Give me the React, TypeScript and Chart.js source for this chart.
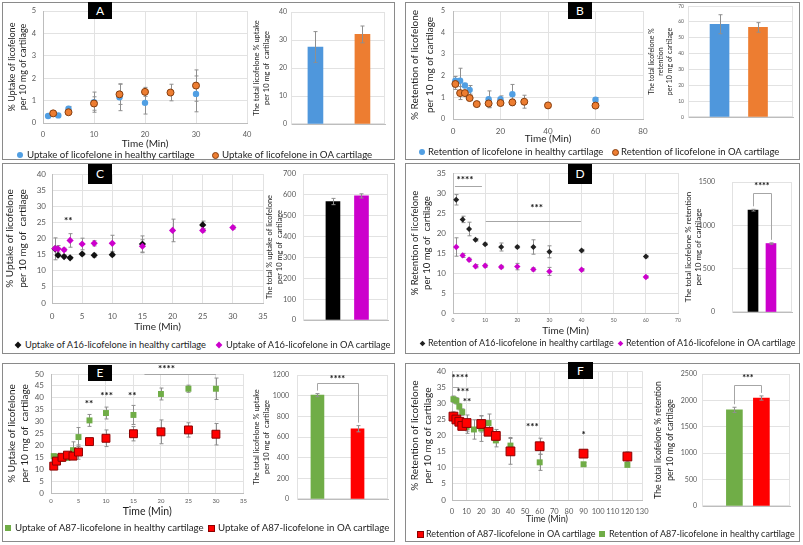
import React, { useEffect, useRef } from 'react';
import { Chart, registerables } from 'chart.js';

Chart.register(...registerables);

const FONT = 'Lato, "Open Sans", "DejaVu Sans", sans-serif';
Chart.defaults.font.family = FONT;

const TICK_COLOR = '#595959';
const TITLE_COLOR = '#1e1e1e';
const GRID_COLOR = '#e2e2e2';
const AXIS_COLOR = '#bdbdbd';
const ERR_COLOR = '#8f8f8f';
const MARK_LINE = '#a6a6a6';

// ---------------- Panel A ----------------
const timeA_healthy = [1, 3, 5, 10, 15, 20, 30];
const uptakeA_healthy = [0.31, 0.34, 0.64, 0.93, 1.15, 0.9, 1.3];
const errA_healthy = [0, 0, 0.1, 0.45, 0.6, 0.5, 0.8];
const timeA_oa = [2, 5, 10, 15, 20, 25, 30];
const uptakeA_oa = [0.43, 0.48, 0.87, 1.28, 1.39, 1.36, 1.67];
const errA_oa = [0, 0.05, 0.3, 0.45, 0.2, 0.37, 0.7];
const totalA_labels = ['Healthy', 'OA'];
const totalA_values = [27.5, 32];
const totalA_err = [5.5, 3];

// ---------------- Panel B ----------------
const timeB_healthy = [1, 3, 5, 7, 15, 20, 25, 60];
const retB_healthy = [1.77, 1.77, 1.55, 1.35, 0.92, 0.92, 1.15, 0.89];
const errB_healthy = [0.2, 0.58, 0.1, 0.2, 0.38, 0.15, 0.45, 0.1];
const timeB_oa = [1, 3, 5, 7, 10, 15, 20, 25, 30, 40, 60];
const retB_oa = [1.62, 1.2, 1.2, 0.97, 0.69, 0.72, 0.74, 0.77, 0.8, 0.63, 0.62];
const errB_oa = [0.25, 0.3, 0.1, 0.1, 0.08, 0.2, 0.1, 0.15, 0.3, 0.05, 0.05];
const totalB_labels = ['Healthy', 'OA'];
const totalB_values = [58.5, 56.5];
const totalB_err = [6, 3];

// ---------------- Panel C ----------------
const timeC_healthy = [0.5, 1, 2, 3, 5, 7, 10, 15, 25];
const uptakeC_healthy = [16.8, 14.8, 14.4, 14.0, 15.2, 14.8, 15.0, 18.3, 24.2];
const errC_healthy = [3.4, 0.5, 0.5, 0.4, 0.5, 0.6, 0.5, 2.5, 1.2];
const timeC_oa = [0.5, 1, 2, 3, 5, 7, 10, 15, 20, 25, 30];
const uptakeC_oa = [16.9, 16.8, 16.5, 19.4, 18.3, 18.5, 18.5, 17.6, 22.5, 22.5, 23.4];
const errC_oa = [0.5, 1, 0.5, 2.1, 1.8, 0.8, 2.5, 2, 3.5, 0.5, 0.5];
const totalC_labels = ['Healthy', 'OA'];
const totalC_values = [568, 595];
const totalC_err = [15, 10];

// ---------------- Panel D ----------------
const timeD = [1, 3, 5, 7, 10, 15, 20, 25, 30, 40, 60];
const retD_healthy = [28.3, 23.4, 21.0, 18.3, 17.2, 16.5, 16.5, 16.5, 15.3, 15.6, 14.1];
const errD_healthy = [1.3, 0.8, 1.7, 0.3, 0.3, 1, 0.3, 1.8, 1.5, 0.3, 0.3];
const retD_oa = [16.5, 14.4, 13.3, 11.7, 11.8, 11.5, 11.6, 10.9, 10.4, 10.8, 9.0];
const errD_oa = [2.3, 0.5, 0.4, 0.4, 0.4, 0.4, 0.8, 0.4, 1.0, 0.3, 0.3];
const totalD_labels = ['Healthy', 'OA'];
const totalD_values = [1175, 790];
const totalD_err = [10, 8];

// ---------------- Panel E ----------------
const timeE = [0.5, 1, 2, 3, 4, 5, 7, 10, 15, 20, 25, 30];
const uptakeE_healthy = [15.5, 15.2, 14.4, 14.8, 18.0, 23.5, 30.5, 33.6, 32.8, 41.6, 43.8, 43.8];
const errE_healthy = [0.8, 0.8, 1, 1, 3.5, 4, 2.5, 2.5, 4, 2.5, 1.5, 4.5];
const uptakeE_oa = [11.3, 13.4, 15.0, 15.9, 15.5, 17.2, 21.6, 23.0, 24.9, 25.7, 26.5, 24.7];
const errE_oa = [1, 1, 1, 1, 1, 3, 1, 3.5, 3, 5, 3, 4.5];
const totalE_labels = ['Healthy', 'OA'];
const totalE_values = [1005, 680];
const totalE_err = [15, 30];

// ---------------- Panel F ----------------
const timeF_oa = [1, 3, 5, 7, 10, 20, 25, 30, 40, 60, 90, 120];
const retF_oa = [25.9, 25.0, 24.3, 23.0, 23.9, 23.6, 21.2, 19.9, 15.1, 16.7, 14.4, 13.5];
const errF_oa = [1.5, 1, 1, 1, 2.5, 2.5, 1, 2, 4, 2.5, 1, 1.5];
const timeF_healthy = [1, 3, 5, 7, 10, 15, 20, 25, 30, 40, 60, 90, 120];
const retF_healthy = [31.3, 30.8, 29.0, 27.3, 22.7, 21.9, 22.2, 23.9, 18.5, 16.9, 11.7, 11.1, 10.9];
const errF_healthy = [1, 1, 1, 1, 2, 3, 4, 2.8, 2, 2.5, 2.5, 0.5, 0.5];
const totalF_labels = ['Healthy', 'OA'];
const totalF_values = [1820, 2045];
const totalF_err = [50, 40];

// ---------------- helpers ----------------
type Rect = [number, number, number, number];
type Shape = 'circle' | 'rect' | 'rectRot';
interface Style { bg: string; border: string; bw: number; shape: Shape; r: number }

const BLUE: Style = { bg: '#519fe3', border: '#519fe3', bw: 0, shape: 'circle', r: 3.2 };
const ORANGE: Style = { bg: '#ed7d31', border: '#843d0e', bw: 1, shape: 'circle', r: 3.5 };
const BLACK_C: Style = { bg: '#111111', border: '#111111', bw: 0, shape: 'rectRot', r: 3.6 };
const MAGENTA_C: Style = { bg: '#cc00cc', border: '#cc00cc', bw: 0, shape: 'rectRot', r: 3.6 };
const BLACK_D: Style = { bg: '#222222', border: '#222222', bw: 0, shape: 'rectRot', r: 3 };
const MAGENTA_D: Style = { bg: '#cc00cc', border: '#cc00cc', bw: 0, shape: 'rectRot', r: 3.2 };
const GREEN_S: Style = { bg: '#70ad47', border: '#70ad47', bw: 0, shape: 'rect', r: 4.2 };
const RED_E: Style = { bg: '#ff0000', border: '#8b0000', bw: 1, shape: 'rect', r: 5.6 };
const RED_F: Style = { bg: '#ff0000', border: '#8b0000', bw: 1, shape: 'rect', r: 6.2 };

interface Marks {
  texts?: { x: number; y: number; t: string }[];
  lines?: { x1: number; x2: number; y: number }[];
  brackets?: { a: number; b: number; y: number }[];
  starSize?: number;
}
interface Extras extends Marks { errOnTop?: boolean; frame?: boolean }

const valOf = (d: any) => (typeof d === 'number' ? d : d.y);

function drawErrors(chart: any) {
  const { ctx } = chart;
  const ys = chart.scales.y;
  ctx.save();
  ctx.strokeStyle = ERR_COLOR;
  ctx.lineWidth = 1;
  chart.data.datasets.forEach((ds: any, di: number) => {
    const errs: number[] | undefined = ds.errors;
    if (!errs) return;
    const meta = chart.getDatasetMeta(di);
    meta.data.forEach((el: any, i: number) => {
      const e = errs[i];
      if (!e) return;
      const v = valOf(ds.data[i]);
      const x = Math.round(el.x) + 0.5;
      const y1 = ys.getPixelForValue(v + e);
      const y2 = ys.getPixelForValue(v - e);
      ctx.beginPath();
      ctx.moveTo(x, y1);
      ctx.lineTo(x, y2);
      ctx.moveTo(x - 2, y1);
      ctx.lineTo(x + 2, y1);
      ctx.moveTo(x - 2, y2);
      ctx.lineTo(x + 2, y2);
      ctx.stroke();
    });
  });
  ctx.restore();
}

function drawMarks(chart: any, o: Marks) {
  const { ctx } = chart;
  const xs = chart.scales.x;
  const ys = chart.scales.y;
  ctx.save();
  ctx.strokeStyle = MARK_LINE;
  ctx.lineWidth = 1;
  (o.lines || []).forEach((l) => {
    const y = Math.round(ys.getPixelForValue(l.y)) + 0.5;
    ctx.beginPath();
    ctx.moveTo(xs.getPixelForValue(l.x1), y);
    ctx.lineTo(xs.getPixelForValue(l.x2), y);
    ctx.stroke();
  });
  if (o.brackets && o.brackets.length) {
    const ds: any = chart.data.datasets[0];
    const meta = chart.getDatasetMeta(0);
    const topOf = (i: number) => ys.getPixelForValue(valOf(ds.data[i]) + (ds.errors ? ds.errors[i] : 0)) - 3;
    o.brackets.forEach((b) => {
      const xa = Math.round(meta.data[b.a].x) + 0.5;
      const xb = Math.round(meta.data[b.b].x) + 0.5;
      const y = Math.round(ys.getPixelForValue(b.y)) + 0.5;
      ctx.beginPath();
      ctx.moveTo(xa, topOf(b.a));
      ctx.lineTo(xa, y);
      ctx.lineTo(xb, y);
      ctx.lineTo(xb, topOf(b.b));
      ctx.stroke();
    });
  }
  ctx.fillStyle = '#111';
  ctx.font = `bold ${o.starSize || 10}px ${FONT}`;
  ctx.textAlign = 'center';
  ctx.textBaseline = 'middle';
  (o.texts || []).forEach((t) => {
    ctx.fillText(t.t, xs.getPixelForValue(t.x), ys.getPixelForValue(t.y));
  });
  ctx.restore();
}

function makeExtras(o: Extras) {
  return {
    id: 'extras',
    beforeDatasetsDraw(chart: any) {
      if (o.frame) {
        const a = chart.chartArea;
        const ctx = chart.ctx;
        ctx.save();
        ctx.strokeStyle = GRID_COLOR;
        ctx.lineWidth = 1;
        ctx.strokeRect(Math.round(a.left) + 0.5, Math.round(a.top) + 0.5, Math.round(a.right - a.left) - 1, Math.round(a.bottom - a.top) - 1);
        ctx.restore();
      }
      if (!o.errOnTop) drawErrors(chart);
    },
    afterDatasetsDraw(chart: any) {
      if (o.errOnTop) drawErrors(chart);
      drawMarks(chart, o);
    },
  };
}

function fixBox(w: number | null, h: number | null) {
  return (s: any) => {
    if (w !== null) s.width = w;
    if (h !== null) s.height = h;
    s.paddingLeft = 0;
    s.paddingRight = 0;
    s.paddingTop = 0;
    s.paddingBottom = 0;
  };
}

interface YTitle { lines: string[]; size: number; firstX: number; spacing: number }
interface SeriesSpec { xs: number[]; ys: number[]; errs: number[]; style: Style }
interface ScatterSpec {
  canvas: Rect;
  plot: Rect;
  x: { min: number; max: number; step: number; size: number; centerY: number };
  y: { min: number; max: number; step: number; size: number; rightX: number };
  xTitle: { text: string; size: number; centerY: number };
  yTitle: YTitle;
  series: SeriesSpec[];
  marks?: Marks;
}
interface BarSpec {
  canvas: Rect;
  plot: Rect;
  labels: string[];
  values: number[];
  errs: number[];
  colors: string[];
  barW: number;
  padL: number;
  padR: number;
  y: { max: number; step: number; size: number; rightX: number };
  yTitle: YTitle;
  marks?: Marks;
}

const NUM_FORMAT = { useGrouping: false };

function yTitleOpt(t: YTitle, cl: number) {
  return {
    display: true,
    text: t.lines,
    color: TITLE_COLOR,
    font: { size: t.size, lineHeight: t.spacing / t.size },
    padding: { top: t.firstX - cl - t.spacing / 2, bottom: 0 },
  };
}

function scatterConfig(s: ScatterSpec): any {
  const [cl, ct, cr, cb] = s.canvas;
  const [pl, pt, pr, pb] = s.plot;
  const xlh = s.xTitle.size * 1.2;
  return {
    type: 'scatter',
    data: {
      datasets: s.series.map((se) => ({
        data: se.xs.map((x, i) => ({ x, y: se.ys[i] })),
        errors: se.errs,
        backgroundColor: se.style.bg,
        borderColor: se.style.border,
        borderWidth: se.style.bw,
        pointStyle: se.style.shape,
        pointRadius: se.style.r,
        pointHoverRadius: se.style.r,
        showLine: false,
        clip: false,
      })),
    },
    options: {
      animation: false,
      responsive: false,
      events: [],
      layout: { padding: { left: 0, top: pt - ct, right: cr - pr, bottom: 0 } },
      plugins: { legend: { display: false }, tooltip: { enabled: false } },
      scales: {
        x: {
          type: 'linear',
          min: s.x.min,
          max: s.x.max,
          ticks: {
            stepSize: s.x.step,
            autoSkip: false,
            maxRotation: 0,
            format: NUM_FORMAT,
            padding: s.x.centerY - pb - 0.45 * s.x.size,
            color: TICK_COLOR,
            font: { size: s.x.size },
          },
          grid: { color: GRID_COLOR, drawTicks: false },
          border: { color: AXIS_COLOR },
          title: {
            display: true,
            text: s.xTitle.text,
            color: TITLE_COLOR,
            font: { size: s.xTitle.size, lineHeight: 1.2 },
            padding: { top: 0, bottom: cb - s.xTitle.centerY - xlh / 2 },
          },
          afterFit: fixBox(null, cb - pb),
        },
        y: {
          type: 'linear',
          min: s.y.min,
          max: s.y.max,
          ticks: {
            stepSize: s.y.step,
            autoSkip: false,
            format: NUM_FORMAT,
            padding: pl - s.y.rightX,
            color: TICK_COLOR,
            font: { size: s.y.size },
          },
          grid: { color: GRID_COLOR, drawTicks: false },
          border: { color: AXIS_COLOR },
          title: yTitleOpt(s.yTitle, cl),
          afterFit: fixBox(pl - cl, null),
        },
      },
    },
    plugins: [makeExtras({ ...(s.marks || {}), errOnTop: false })],
  };
}

function barConfig(b: BarSpec): any {
  const [cl, ct, cr, cb] = b.canvas;
  const [pl, pt, pr, pb] = b.plot;
  return {
    type: 'bar',
    data: {
      labels: b.labels,
      datasets: [
        {
          data: b.values.map((v, i) => ({ x: i + 1, y: v })),
          errors: b.errs,
          backgroundColor: b.colors,
          borderWidth: 0,
          barThickness: b.barW,
        },
      ],
    },
    options: {
      animation: false,
      responsive: false,
      events: [],
      layout: { padding: { left: 0, top: pt - ct, right: cr - pr, bottom: 0 } },
      plugins: { legend: { display: false }, tooltip: { enabled: false } },
      scales: {
        x: {
          type: 'linear',
          offset: false,
          min: 1 - b.padL,
          max: 2 + b.padR,
          ticks: { display: false },
          grid: { display: false },
          border: { color: AXIS_COLOR },
          afterFit: fixBox(null, cb - pb),
        },
        y: {
          type: 'linear',
          min: 0,
          max: b.y.max,
          ticks: {
            stepSize: b.y.step,
            autoSkip: false,
            format: NUM_FORMAT,
            padding: pl - b.y.rightX,
            color: TICK_COLOR,
            font: { size: b.y.size },
          },
          grid: { color: GRID_COLOR, drawTicks: false },
          border: { color: GRID_COLOR },
          title: yTitleOpt(b.yTitle, cl),
          afterFit: fixBox(pl - cl, null),
        },
      },
    },
    plugins: [makeExtras({ ...(b.marks || {}), errOnTop: true, frame: true })],
  };
}

// ---------------- chart specs ----------------
const scatterA: ScatterSpec = {
  canvas: [3, 3, 252, 150],
  plot: [43, 11, 247, 123],
  x: { min: 0, max: 40, step: 10, size: 7.5, centerY: 133 },
  y: { min: 0, max: 5, step: 1, size: 7.5, rightX: 36 },
  xTitle: { text: 'Time (Min)', size: 10, centerY: 144 },
  yTitle: { lines: ['% Uptake of licofelone', 'per 10 mg of cartilage'], size: 9, firstX: 12, spacing: 11 },
  series: [
    { xs: timeA_oa, ys: uptakeA_oa, errs: errA_oa, style: ORANGE },
    { xs: timeA_healthy, ys: uptakeA_healthy, errs: errA_healthy, style: BLUE },
  ],
};
const barA: BarSpec = {
  canvas: [251, 3, 393, 135],
  plot: [291, 12, 385, 124],
  labels: totalA_labels,
  values: totalA_values,
  errs: totalA_err,
  colors: ['#4f97dc', '#ed7d31'],
  barW: 15,
  padL: 0.52,
  padR: 0.48,
  y: { max: 40, step: 10, size: 7, rightX: 287 },
  yTitle: { lines: ['The total licofelone % uptake', 'per 10 mg of  cartilage'], size: 7.5, firstX: 257, spacing: 10 },
};

const scatterB: ScatterSpec = {
  canvas: [406, 3, 650, 146],
  plot: [453, 11, 643, 119],
  x: { min: 0, max: 80, step: 20, size: 8, centerY: 130 },
  y: { min: 0, max: 5, step: 1, size: 7, rightX: 445 },
  xTitle: { text: 'Time (Min)', size: 10, centerY: 139 },
  yTitle: { lines: ['% Retention of licofelone', 'per 10 mg of cartilage'], size: 10, firstX: 415, spacing: 15 },
  series: [
    { xs: timeB_oa, ys: retB_oa, errs: errB_oa, style: ORANGE },
    { xs: timeB_healthy, ys: retB_healthy, errs: errB_healthy, style: BLUE },
  ],
};
const barB: BarSpec = {
  canvas: [646, 3, 798, 130],
  plot: [688, 6, 793, 117],
  labels: totalB_labels,
  values: totalB_values,
  errs: totalB_err,
  colors: ['#4f97dc', '#ed7d31'],
  barW: 19,
  padL: 0.82,
  padR: 0.91,
  y: { max: 70, step: 10, size: 5, rightX: 684 },
  yTitle: { lines: ['The total licofelone %', 'retention', 'per 10 mg of cartilage'], size: 7, firstX: 652, spacing: 9 },
};

const scatterC: ScatterSpec = {
  canvas: [3, 164, 268, 333],
  plot: [52, 174, 263, 303],
  x: { min: 0, max: 35, step: 5, size: 8, centerY: 315 },
  y: { min: 0, max: 40, step: 5, size: 8, rightX: 46 },
  xTitle: { text: 'Time (Min)', size: 10, centerY: 327 },
  yTitle: { lines: ['% Uptake of licofelone', 'per 10 mg of  cartilage'], size: 10, firstX: 10, spacing: 13 },
  series: [
    { xs: timeC_oa, ys: uptakeC_oa, errs: errC_oa, style: MAGENTA_C },
    { xs: timeC_healthy, ys: uptakeC_healthy, errs: errC_healthy, style: BLACK_C },
  ],
  marks: { texts: [{ x: 2.7, y: 25.4, t: '**' }] },
};
const barC: BarSpec = {
  canvas: [264, 164, 393, 330],
  plot: [303, 174, 388, 320],
  labels: totalC_labels,
  values: totalC_values,
  errs: totalC_err,
  colors: ['#000000', '#cc00cc'],
  barW: 14,
  padL: 1.05,
  padR: 0.93,
  y: { max: 700, step: 100, size: 7.5, rightX: 296 },
  yTitle: { lines: ['The total % uptake of licofelone', 'per 10 mg of  cartilage'], size: 7.5, firstX: 270, spacing: 10 },
};

const scatterD: ScatterSpec = {
  canvas: [406, 164, 683, 337],
  plot: [453, 173, 678, 313],
  x: { min: 0, max: 70, step: 10, size: 5, centerY: 320 },
  y: { min: 0, max: 35, step: 5, size: 8, rightX: 446 },
  xTitle: { text: 'Time (Min)', size: 10, centerY: 331 },
  yTitle: { lines: ['% Retention of licofelone', 'per 10 mg of  cartilage'], size: 9.5, firstX: 415, spacing: 12 },
  series: [
    { xs: timeD, ys: retD_healthy, errs: errD_healthy, style: BLACK_D },
    { xs: timeD, ys: retD_oa, errs: errD_oa, style: MAGENTA_D },
  ],
  marks: {
    texts: [
      { x: 3.7, y: 33.3, t: '****' },
      { x: 26, y: 26.3, t: '***' },
    ],
    lines: [
      { x1: 0.6, x2: 9, y: 31.75 },
      { x1: 10.2, x2: 39.8, y: 23 },
    ],
  },
};
const barD: BarSpec = {
  canvas: [682, 164, 798, 325],
  plot: [732, 182, 792, 312],
  labels: totalD_labels,
  values: totalD_values,
  errs: totalD_err,
  colors: ['#000000', '#cc00cc'],
  barW: 10,
  padL: 1.17,
  padR: 1.17,
  y: { max: 1500, step: 500, size: 7, rightX: 715 },
  yTitle: { lines: ['The total licofelone % retention', 'per 10 mg of cartilage'], size: 8, firstX: 688, spacing: 10 },
  marks: { brackets: [{ a: 0, b: 1, y: 1370 }], texts: [{ x: 1.5, y: 1450, t: '****' }], starSize: 9 },
};

const scatterE: ScatterSpec = {
  canvas: [3, 364, 250, 519],
  plot: [51, 374, 245, 493],
  x: { min: 0, max: 35, step: 5, size: 6, centerY: 500 },
  y: { min: 0, max: 50, step: 5, size: 8, rightX: 44 },
  xTitle: { text: 'Time (Min)', size: 10.5, centerY: 512 },
  yTitle: { lines: ['% Uptake of licofelone', 'per 10 mg of  cartilage'], size: 10, firstX: 12, spacing: 13 },
  series: [
    { xs: timeE, ys: uptakeE_oa, errs: errE_oa, style: RED_E },
    { xs: timeE, ys: uptakeE_healthy, errs: errE_healthy, style: GREEN_S },
  ],
  marks: {
    texts: [
      { x: 6.9, y: 37.6, t: '**' },
      { x: 10.1, y: 41, t: '***' },
      { x: 14.8, y: 41, t: '**' },
      { x: 21, y: 52, t: '****' },
    ],
    lines: [{ x1: 17, x2: 30, y: 49.8 }],
  },
};
const barE: BarSpec = {
  canvas: [251, 364, 393, 510],
  plot: [297, 375, 388, 499],
  labels: totalE_labels,
  values: totalE_values,
  errs: totalE_err,
  colors: ['#70ad47', '#ff0000'],
  barW: 13,
  padL: 0.51,
  padR: 0.76,
  y: { max: 1200, step: 200, size: 7, rightX: 289 },
  yTitle: { lines: ['The total licofelone % uptake', 'per 10 mg of  cartilage'], size: 7.5, firstX: 257, spacing: 10 },
  marks: { brackets: [{ a: 0, b: 1, y: 1120 }], texts: [{ x: 1.5, y: 1165, t: '****' }], starSize: 9 },
};

const scatterF: ScatterSpec = {
  canvas: [406, 364, 650, 525],
  plot: [452, 368, 642, 500],
  x: { min: 0, max: 130, step: 10, size: 7.5, centerY: 510 },
  y: { min: 0, max: 40, step: 5, size: 8, rightX: 446 },
  xTitle: { text: 'Time (Min)', size: 9, centerY: 519 },
  yTitle: { lines: ['% Retention of licofelone', 'per 10 mg of cartilage'], size: 10, firstX: 415, spacing: 13 },
  series: [
    { xs: timeF_oa, ys: retF_oa, errs: errF_oa, style: RED_F },
    { xs: timeF_healthy, ys: retF_healthy, errs: errF_healthy, style: GREEN_S },
  ],
  marks: {
    texts: [
      { x: 5.5, y: 37.9, t: '****' },
      { x: 7.5, y: 33.6, t: '***' },
      { x: 10.3, y: 30.6, t: '**' },
      { x: 55, y: 22.7, t: '***' },
      { x: 90, y: 20.3, t: '*' },
    ],
    lines: [{ x1: 0.7, x2: 4.8, y: 35.2 }],
  },
};
const barF: BarSpec = {
  canvas: [652, 364, 798, 515],
  plot: [702, 374, 790, 506],
  labels: totalF_labels,
  values: totalF_values,
  errs: totalF_err,
  colors: ['#70ad47', '#ff0000'],
  barW: 16,
  padL: 1.2,
  padR: 1.06,
  y: { max: 2500, step: 500, size: 7, rightX: 697 },
  yTitle: { lines: ['The total licofelone % retention', 'per 10 mg of cartilage'], size: 8.5, firstX: 658, spacing: 12 },
  marks: { brackets: [{ a: 0, b: 1, y: 2290 }], texts: [{ x: 1.5, y: 2420, t: '***' }], starSize: 9 },
};

// ---------------- layout (panels, labels, legends) ----------------
const panelBoxes: { rect: Rect; letter: string; label: Rect }[] = [
  { rect: [2, 2, 395, 160], letter: 'A', label: [88, 2, 112, 19] },
  { rect: [405, 2, 800, 160], letter: 'B', label: [568, 2, 592, 19] },
  { rect: [2, 163, 395, 354], letter: 'C', label: [88, 164, 112, 184] },
  { rect: [405, 163, 800, 354], letter: 'D', label: [568, 164, 592, 184] },
  { rect: [2, 363, 395, 542], letter: 'E', label: [88, 365, 112, 381] },
  { rect: [405, 363, 800, 542], letter: 'F', label: [568, 362, 593, 379] },
];

interface LegendItem { mx: number; tx: number; style: Style; label: string; ms: number }
const legends: { y: number; size: number; items: LegendItem[] }[] = [
  {
    y: 155, size: 9.7,
    items: [
      { mx: 20, tx: 27, style: BLUE, ms: 6, label: 'Uptake of licofelone in healthy cartilage' },
      { mx: 215, tx: 222, style: ORANGE, ms: 7, label: 'Uptake of licofelone in OA cartilage' },
    ],
  },
  {
    y: 152, size: 9.5,
    items: [
      { mx: 422, tx: 428, style: BLUE, ms: 6, label: 'Retention of licofelone in healthy cartilage' },
      { mx: 615, tx: 621, style: ORANGE, ms: 7, label: 'Retention of licofelone in OA cartilage' },
    ],
  },
  {
    y: 345, size: 9.3,
    items: [
      { mx: 18, tx: 25, style: BLACK_C, ms: 6, label: 'Uptake of A16-licofelone in healthy cartilage' },
      { mx: 219, tx: 226, style: MAGENTA_C, ms: 6, label: 'Uptake of A16-licofelone in OA cartilage' },
    ],
  },
  {
    y: 343, size: 9,
    items: [
      { mx: 422, tx: 428, style: BLACK_D, ms: 5, label: 'Retention of A16-licofelone in healthy cartilage' },
      { mx: 620, tx: 626, style: MAGENTA_D, ms: 5, label: 'Retention of A16-licofelone in OA cartilage' },
    ],
  },
  {
    y: 528, size: 9.7,
    items: [
      { mx: 8, tx: 15, style: GREEN_S, ms: 6, label: 'Uptake of A87-licofelone in healthy cartilage' },
      { mx: 211, tx: 218, style: RED_E, ms: 7, label: 'Uptake of A87-licofelone in OA cartilage' },
    ],
  },
  {
    y: 534, size: 9,
    items: [
      { mx: 420, tx: 426, style: RED_F, ms: 7, label: 'Retention of A87-licofelone in OA cartilage' },
      { mx: 602, tx: 609, style: GREEN_S, ms: 6, label: 'Retention of A87-licofelone in healthy cartilage' },
    ],
  },
];

function ChartCanvas({ rect, make }: { rect: Rect; make: () => any }) {
  const ref = useRef<HTMLCanvasElement | null>(null);
  useEffect(() => {
    if (!ref.current) return;
    const chart = new Chart(ref.current, make());
    return () => chart.destroy();
  }, []);
  const [l, t, r, b] = rect;
  return (
    <canvas
      ref={ref}
      width={r - l}
      height={b - t}
      style={{ position: 'absolute', left: l, top: t, width: r - l, height: b - t }}
    />
  );
}

function Marker({ x, y, s, style }: { x: number; y: number; s: number; style: Style }) {
  const base: React.CSSProperties = {
    position: 'absolute',
    left: x - s / 2,
    top: y - s / 2,
    width: s,
    height: s,
    boxSizing: 'border-box',
    background: style.bg,
    border: style.bw ? `1px solid ${style.border}` : 'none',
  };
  if (style.shape === 'circle') base.borderRadius = '50%';
  if (style.shape === 'rectRot') {
    base.transform = 'rotate(45deg) scale(0.8)';
  }
  return <div style={base} />;
}

const scatterSpecs = [scatterA, scatterB, scatterC, scatterD, scatterE, scatterF];
const barSpecs = [barA, barB, barC, barD, barE, barF];

export default function App() {
  return (
    <div
      style={{
        position: 'absolute',
        left: 0,
        top: 0,
        width: 803,
        height: 545,
        background: '#ffffff',
        overflow: 'hidden',
        fontFamily: FONT,
      }}
    >
      {panelBoxes.map((p, i) => (
        <div
          key={'box' + i}
          style={{
            position: 'absolute',
            left: p.rect[0],
            top: p.rect[1],
            width: p.rect[2] - p.rect[0],
            height: p.rect[3] - p.rect[1],
            boxSizing: 'border-box',
            border: '1px solid #8a8a8a',
          }}
        />
      ))}
      {scatterSpecs.map((s, i) => (
        <ChartCanvas key={'sc' + i} rect={s.canvas} make={() => scatterConfig(s)} />
      ))}
      {barSpecs.map((b, i) => (
        <ChartCanvas key={'bar' + i} rect={b.canvas} make={() => barConfig(b)} />
      ))}
      {panelBoxes.map((p, i) => (
        <div
          key={'lab' + i}
          style={{
            position: 'absolute',
            left: p.label[0],
            top: p.label[1],
            width: p.label[2] - p.label[0],
            height: p.label[3] - p.label[1],
            background: '#000',
            color: '#fff',
            fontSize: 12,
            lineHeight: `${p.label[3] - p.label[1]}px`,
            textAlign: 'center',
          }}
        >
          {p.letter}
        </div>
      ))}
      {legends.map((lg, i) => (
        <React.Fragment key={'lg' + i}>
          {lg.items.map((it, j) => (
            <React.Fragment key={j}>
              <Marker x={it.mx} y={lg.y} s={it.ms} style={it.style} />
              <span
                style={{
                  position: 'absolute',
                  left: it.tx,
                  top: lg.y - lg.size * 0.7,
                  fontSize: lg.size,
                  lineHeight: `${lg.size * 1.4}px`,
                  whiteSpace: 'pre',
                  color: '#1e1e1e',
                }}
              >
                {it.label}
              </span>
            </React.Fragment>
          ))}
        </React.Fragment>
      ))}
    </div>
  );
}
